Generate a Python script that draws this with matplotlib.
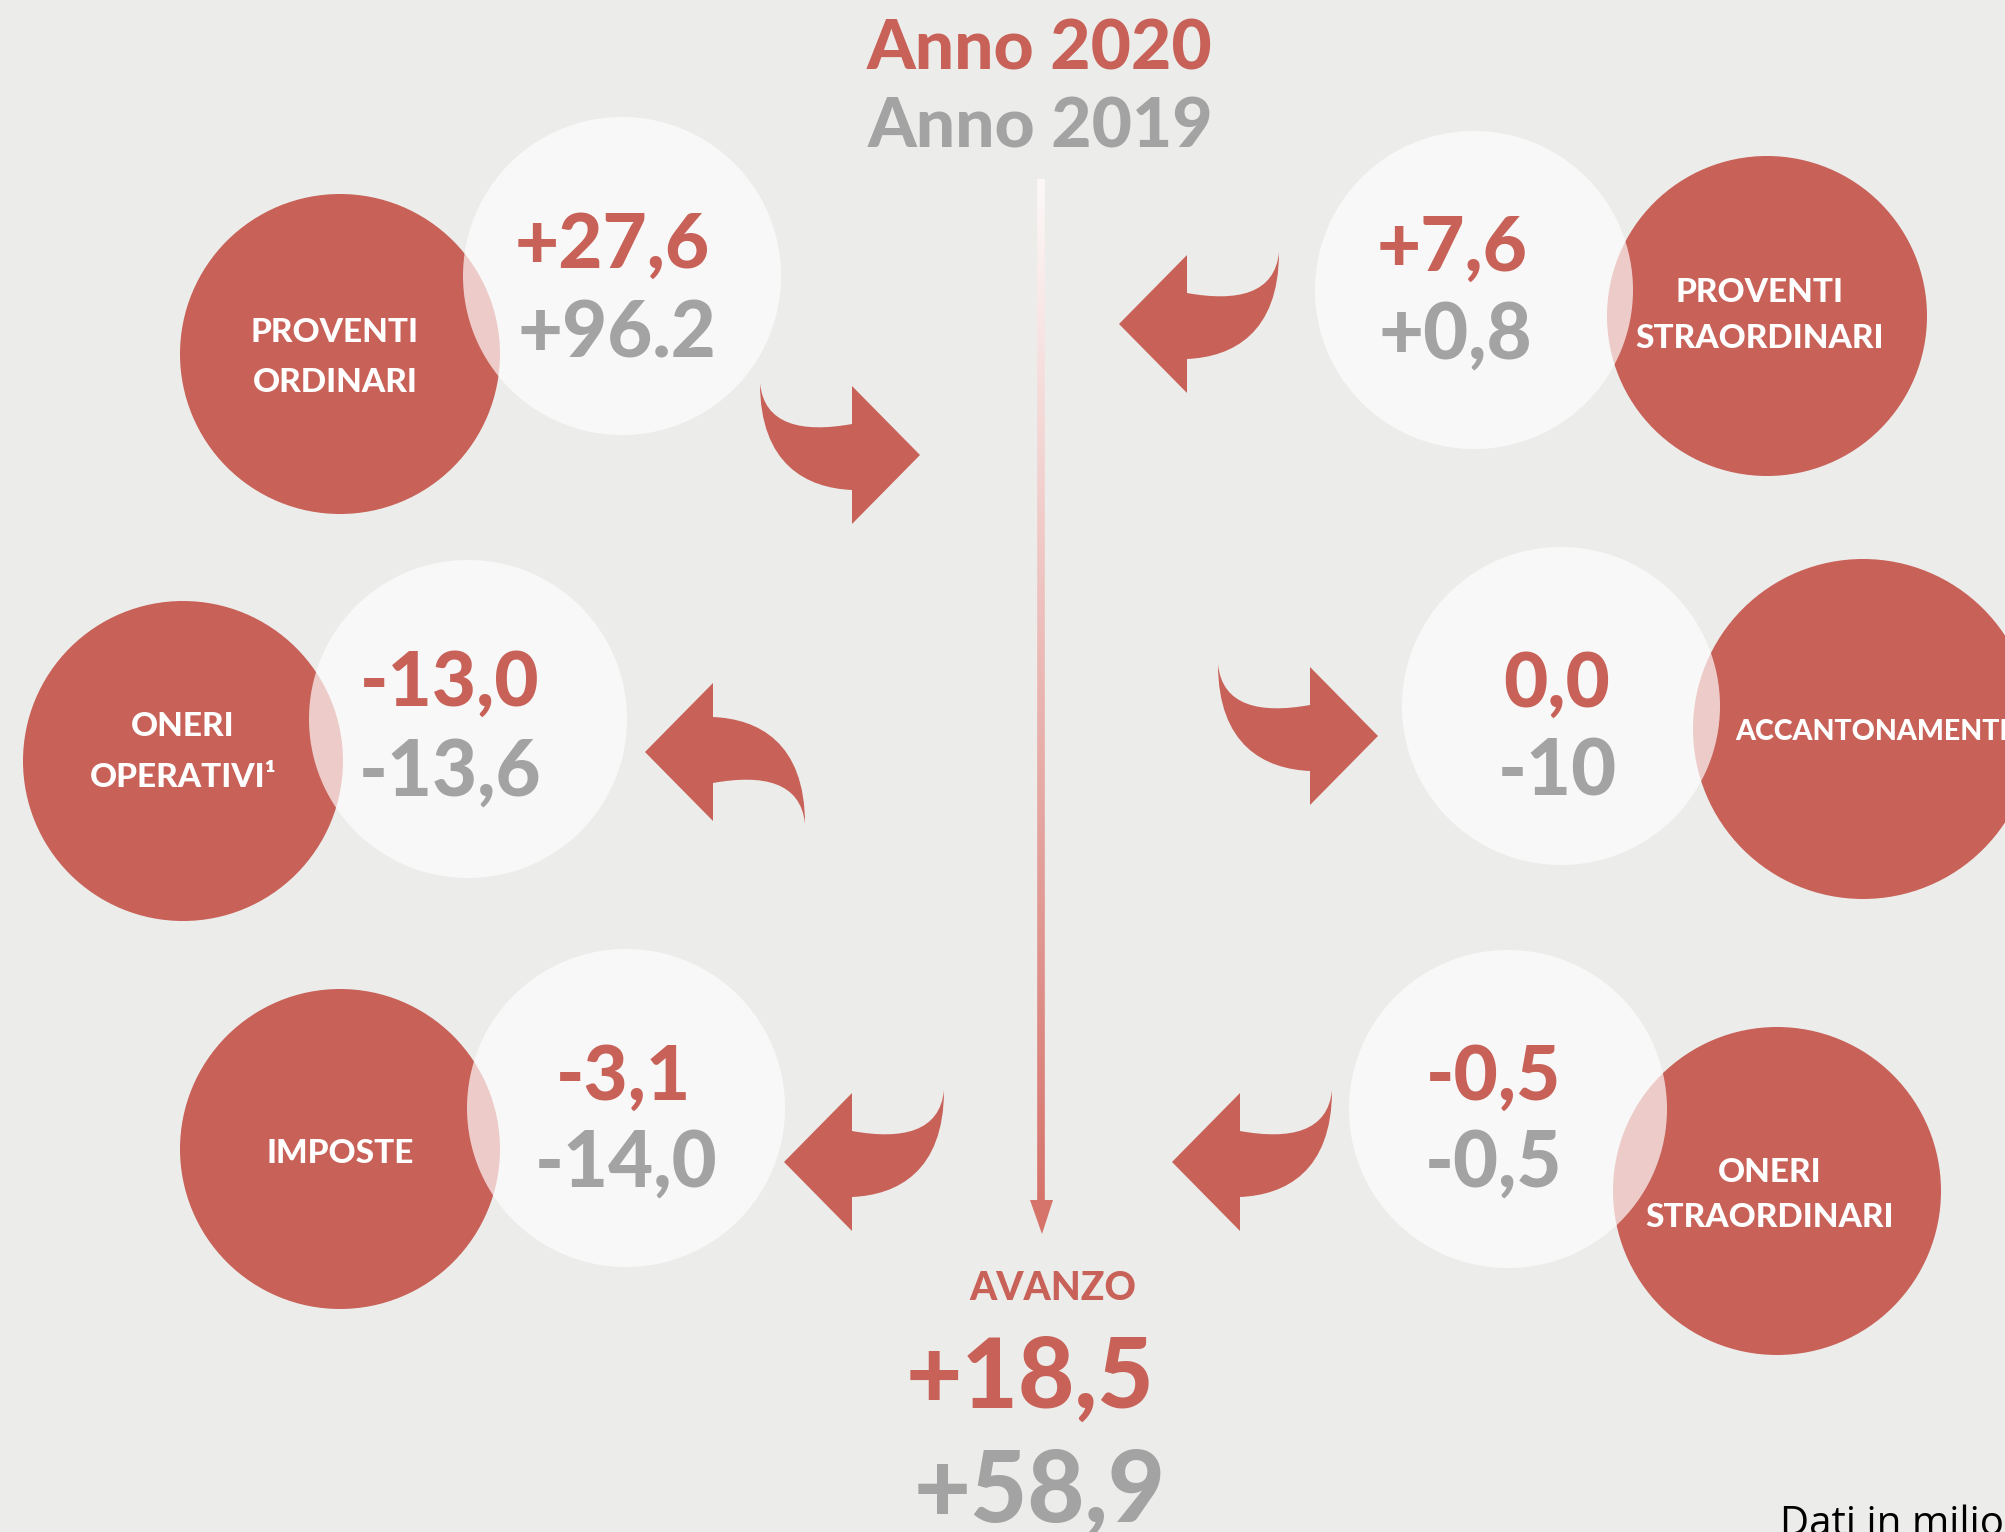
import matplotlib.pyplot as plt
import numpy as np
from matplotlib.patches import Circle, PathPatch, Polygon
from matplotlib.path import Path
from matplotlib.collections import LineCollection

# data
labels = [["PROVENTI", "ORDINARI"], ["ONERI", "OPERATIVI¹"], ["IMPOSTE"],
          ["PROVENTI", "STRAORDINARI"], ["ACCANTONAMENTI"], ["ONERI", "STRAORDINARI"]]
val_2020 = ["+27,6", "-13,0", "-3,1", "+7,6", "0,0", "-0,5"]
val_2019 = ["+96.2", "-13,6", "-14,0", "+0,8", "-10", "-0,5"]
titles = ["Anno 2020", "Anno 2019"]
avanzo_label = "AVANZO"
avanzo_2020 = "+18,5"
avanzo_2019 = "+58,9"
note = "Dati in milioni di euro"

# layout (pixel positions on a 2006x1532 canvas)
red_xy = [(340, 354), (183, 761), (340, 1149), (1767, 316), (1863, 729), (1777, 1191)]
red_r = [160, 160, 160, 160, 170, 164]
white_xy = [(622, 276), (468, 719), (626, 1108), (1474, 290), (1561, 706), (1508, 1109)]
white_r = 159
num_xy_2020 = [(612, 240), (450, 678), (624, 1072), (1452, 243), (1557, 679), (1494, 1072)]
num_xy_2019 = [(617, 330), (450, 768), (626, 1159), (1455, 331), (1557, 768), (1494, 1159)]
label_xy = [(335, [330, 380]), (183, [724, 775]), (340, [1151]),
            (1760, [290, 336]), (1735, [730]), (1770, [1170, 1215])]
label_size = [24, 24, 24, 24, 20.5, 24]
arrow_anchor = [(852, 455), (713, 752), (852, 1162), (1187, 324), (1310, 736), (1240, 1162)]
arrow_flip = [(1, 1), (-1, -1), (-1, 1), (-1, 1), (1, 1), (-1, 1)]

RED = "#C86158"
GRAY = "#A3A3A3"
BG = "#ECECEA"
FONT = ["Lato", "DejaVu Sans"]
K = 100 / 72  # px per pt


def text_cap(x, y, s, size, color, ha="center", weight=900):
    # y = vertical centre of capitals
    ax.text(x, y + 0.36 * size * K, s, fontsize=size, color=color, ha=ha,
            va="baseline", family=FONT, fontweight=weight)


fig = plt.figure(figsize=(20.06, 15.32), dpi=100, facecolor=BG)
ax = fig.add_axes([0, 0, 1, 1])
ax.set_xlim(0, 2006)
ax.set_ylim(1532, 0)
ax.axis("off")
ax.set_facecolor(BG)

# circles
for (x, y), r in zip(red_xy, red_r):
    ax.add_patch(Circle((x, y), r, color=RED, lw=0, zorder=1))
for (x, y) in white_xy:
    ax.add_patch(Circle((x, y), white_r, color="white", alpha=0.68, lw=0, zorder=2))

# curved arrows
verts = [(0, -69), (68, 0), (0, 69), (0, 35),
         (-45, 33), (-92, 10), (-92, -72),
         (-88, -30), (-50, -22), (0, -31), (0, -69)]
codes = [Path.MOVETO, Path.LINETO, Path.LINETO, Path.LINETO,
         Path.CURVE4, Path.CURVE4, Path.CURVE4,
         Path.CURVE4, Path.CURVE4, Path.CURVE4, Path.CLOSEPOLY]
for (px, py), (sx, sy) in zip(arrow_anchor, arrow_flip):
    v = [(px + sx * a, py + sy * b) for a, b in verts]
    ax.add_patch(PathPatch(Path(v, codes), facecolor=RED, lw=0, zorder=3))

# central gradient line
ys = np.linspace(179, 1205, 300)
segs = [[(1041, ys[i]), (1041, ys[i + 1])] for i in range(len(ys) - 1)]
c0 = np.array([0.99, 0.97, 0.97])
c1 = np.array([0.84, 0.45, 0.42])
t = np.linspace(0, 1, len(segs))[:, None]
ax.add_collection(LineCollection(segs, colors=c0 * (1 - t) + c1 * t, linewidths=5.5, zorder=2))
ax.add_patch(Polygon([(1030, 1200), (1053, 1200), (1042, 1234)], closed=True,
                     facecolor=c1, lw=0, zorder=2))

# titles
text_cap(1040, 44, titles[0], 50, RED)
text_cap(1040, 122, titles[1], 50, GRAY)

# labels in red circles
for lines, (x, ys_), size in zip(labels, label_xy, label_size):
    ha = "left" if lines[0] == "ACCANTONAMENTI" else "center"
    for s, y in zip(lines, ys_):
        text_cap(x, y, s, size, "white", ha=ha)

# values
for s, (x, y) in zip(val_2020, num_xy_2020):
    text_cap(x, y, s, 55, RED)
for s, (x, y) in zip(val_2019, num_xy_2019):
    text_cap(x, y, s, 56, GRAY)

# avanzo
text_cap(1053, 1286, avanzo_label, 28, RED)
text_cap(1030, 1373, avanzo_2020, 70, RED)
text_cap(1040, 1486, avanzo_2019, 71, GRAY)

ax.text(1780, 1535, note, fontsize=29, color="black", ha="left", va="baseline",
        family=["Open Sans", "DejaVu Sans"])

fig.savefig("out.png", dpi=100, facecolor=BG)
